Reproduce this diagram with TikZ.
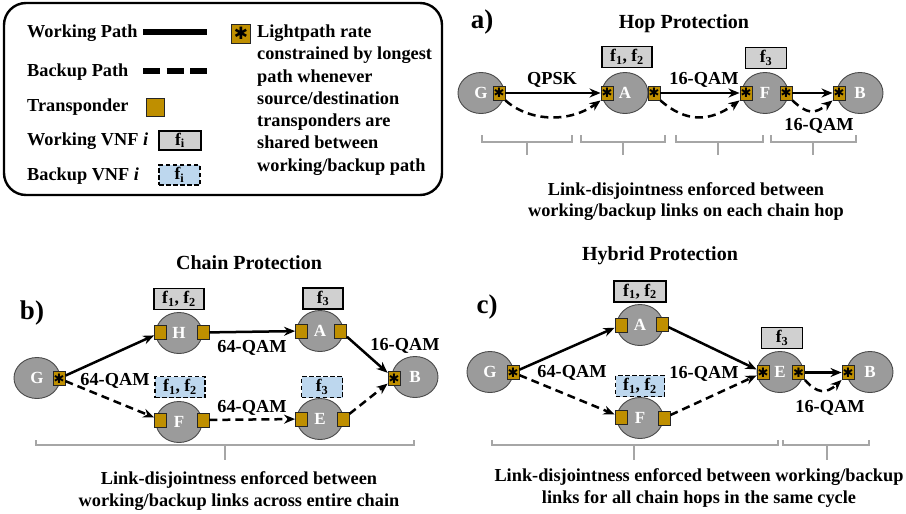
\documentclass[tikz,border=0pt]{standalone}
\usepackage{fontspec}
\setmainfont{Liberation Serif}
\newfontfamily\symfont{DejaVu Sans}
\usetikzlibrary{shapes.geometric,arrows.meta}
\definecolor{gold}{HTML}{BF8F00}
\definecolor{ndfill}{HTML}{9B9B9B}
\definecolor{ndline}{HTML}{4A4A4A}
\definecolor{vnfgray}{HTML}{D0D0D0}
\definecolor{vnfblue}{HTML}{BDD7EE}
\definecolor{brkc}{HTML}{A6A6A6}
\newcommand\tpstar{{\symfont ✱}}
\begin{document}
\begin{tikzpicture}[x=1pt,y=-1pt,
  txt/.style={font=\bfseries\fontsize{18.3}{21}\selectfont, inner sep=0pt, text height=13pt, text depth=3pt},
  ttl/.style={font=\bfseries\fontsize{20}{22}\selectfont, inner sep=0pt, text height=14pt, text depth=4pt},
  desc/.style={font=\bfseries\fontsize{18.3}{21.5}\selectfont, inner sep=0pt, align=center},
  big/.style={font=\bfseries\fontsize{27}{28}\selectfont, inner sep=0pt},
  nd/.style={ellipse, draw=ndline, fill=ndfill, line width=0.9pt, minimum width=46pt, minimum height=41pt, inner sep=0pt, text=white, font=\bfseries\fontsize{17}{17}\selectfont},
  tp/.style={rectangle, draw=black!85, fill=gold, line width=0.9pt, minimum width=12pt, minimum height=14pt, inner sep=0pt},
  tps/.style={tp, font=\fontsize{13}{13}\selectfont},
  vw/.style={rectangle, draw=black, fill=vnfgray, line width=1.8pt, minimum width=50pt, minimum height=21pt, inner sep=0pt, font=\bfseries\fontsize{17.5}{17.5}\selectfont},
  vb/.style={vw, fill=vnfblue, line width=1.5pt, dash pattern=on 4.5pt off 2.5pt},
  work/.style={line width=2.5pt, -{Stealth[length=11pt,width=9pt]}},
  bkp/.style={work, dash pattern=on 8pt off 5pt},
  brk/.style={draw=brkc, line width=1.5pt}
]
\useasboundingbox (0,0) rectangle (906,514);

% ---------------- Legend ----------------
\draw[line width=2.4pt, rounded corners=22pt] (4,3) rectangle (442,195);
\node[txt, anchor=west] (lgw) at (27,32) {Working Path};
\coordinate (lw1) at (143,32); \coordinate (lw2) at (207,32);
\draw[line width=5.5pt] (lw1) -- (lw2);
\node[txt, anchor=west] (lgb) at (27,71) {Backup Path};
\coordinate (lb1) at (143,71); \coordinate (lb2) at (207,71);
\draw[line width=5.5pt, dash pattern=on 17pt off 6.5pt] (lb1) -- (lb2);
\node[txt, anchor=west] (lgt) at (27,106) {Transponder};
\node[tp, minimum width=18pt, minimum height=18pt] (lgtb) at (155,107) {};
\node[txt, anchor=west] (lgv) at (27,140) {Working VNF \textit{i}};
\node[vw, minimum width=42pt, minimum height=19pt] (lgvb) at (180,140.5) {f\textsubscript{i}};
\node[txt, anchor=west] (lgk) at (27,175) {Backup VNF \textit{i}};
\node[vb, minimum width=41pt, minimum height=20pt] (lgkb) at (179.5,175) {f\textsubscript{i}};
\node[tp, minimum width=19pt, minimum height=19pt, font=\fontsize{17}{17}\selectfont] (lgs) at (241,33.5) {\tpstar};
\node[font=\bfseries\fontsize{18.3}{22.3}\selectfont, align=left, anchor=west, inner sep=0pt] (lgst) at (257,100)
  {Lightpath rate\\constrained by longest\\path whenever\\source/destination\\transponders are\\shared between\\working/backup path};

% ---------------- a) Hop Protection ----------------
\node[big] (la) at (482,22) {a)};
\node[ttl] (ta) at (684,23) {Hop Protection};
\node[nd] (aG) at (481,93) {G};
\node[nd] (aA) at (625,93) {A};
\node[nd] (aF) at (765,93) {F};
\node[nd] (aB) at (860,93) {B};
\node[tps] (aGt) at (499,93) {\tpstar};
\node[tps] (aAl) at (607,93) {\tpstar};
\node[tps] (aAr) at (654,93) {\tpstar};
\node[tps] (aFl) at (746,93) {\tpstar};
\node[tps] (aFr) at (786,93) {\tpstar};
\node[tps] (aBl) at (839,93) {\tpstar};
\node[vw] (aV1) at (627,57) {f\textsubscript{1}, f\textsubscript{2}};
\node[vw, minimum width=41pt] (aV2) at (766,58) {f\textsubscript{3}};
\draw[work] (aGt) -- (aAl);
\draw[work] (aAr) -- (aFl);
\draw[work] (aFr) -- (aBl);
\draw[bkp] (aGt.south east) .. controls +(25,22) and +(-30,22) .. (aAl.south west);
\draw[bkp] (aAr.south east) .. controls +(25,22) and +(-30,22) .. (aFl.south west);
\draw[bkp] (aFr.south east) .. controls +(15,14) and +(-18,14) .. (aBl.south west);
\node[txt] (aq1) at (552,79) {QPSK};
\node[txt] (aq2) at (704,79) {16-QAM};
\node[txt] (aq3) at (819,125) {16-QAM};
\draw[brk] (482,135) |- (572,142) -- (572,135); \draw[brk] (527,142) -- (527,155);
\draw[brk] (581,135) |- (665,142) -- (665,135); \draw[brk] (623,142) -- (623,155);
\draw[brk] (676,135) |- (763,142) -- (763,135); \draw[brk] (718,142) -- (718,155);
\draw[brk] (771,135) |- (856,142) -- (856,135); \draw[brk] (813,142) -- (813,155);
\node[desc] (ad) at (686,201.5) {Link-disjointness enforced between\\working/backup links on each chain hop};

% ---------------- b) Chain Protection ----------------
\node[big] (lb) at (32,313) {b)};
\node[ttl] (tb) at (249,264) {Chain Protection};
\node[nd] (bG) at (37,378) {G};
\node[nd] (bH) at (179,333) {H};
\node[nd] (bF) at (179,422) {F};
\node[nd] (bA) at (320,331) {A};
\node[nd] (bE) at (320,419) {E};
\node[nd] (bB) at (415,377) {B};
\node[tps] (bGt) at (59,378.5) {\tpstar};
\node[tp] (bHl) at (160.5,332.5) {};
\node[tp] (bHr) at (203,332.5) {};
\node[tp] (bAl) at (301.5,331) {};
\node[tp] (bAr) at (340.5,331) {};
\node[tp] (bFl) at (160.5,420) {};
\node[tp] (bFr) at (203,420) {};
\node[tp] (bEl) at (301.5,419) {};
\node[tp] (bEr) at (343,419) {};
\node[tps] (bBl) at (394,378.5) {\tpstar};
\node[vw] (bV1) at (179,299) {f\textsubscript{1}, f\textsubscript{2}};
\node[vw, minimum width=40pt] (bV2) at (323,298.5) {f\textsubscript{3}};
\node[vb] (bV3) at (180,387) {f\textsubscript{1}, f\textsubscript{2}};
\node[vb, minimum width=41pt] (bV4) at (322,387) {f\textsubscript{3}};
\draw[work] (bGt) -- (bHl);
\draw[work] (bHr) -- (bAl);
\draw[work] (bAr) -- (bBl);
\draw[bkp] (bGt) -- (bFl);
\draw[bkp] (bFr) -- (bEl);
\draw[bkp] (bEr) -- (bBl);
\node[txt] (bq1) at (115,380) {64-QAM};
\node[txt] (bq2) at (252,347) {64-QAM};
\node[txt] (bq3) at (252,407) {64-QAM};
\node[txt] (bq4) at (405,345) {16-QAM};
\draw[brk] (36,440) |- (414,445) -- (414,440); \draw[brk] (225,445) -- (225,460);
\node[desc] (bd) at (239,491) {Link-disjointness enforced between\\working/backup links across entire chain};

% ---------------- c) Hybrid Protection ----------------
\node[big] (lc) at (487,307) {c)};
\node[ttl] (tc) at (660,255) {Hybrid Protection};
\node[nd] (cG) at (490,372) {G};
\node[nd] (cA) at (640,325) {A};
\node[nd] (cF) at (640,418) {F};
\node[nd] (cE) at (780,372) {E};
\node[nd] (cB) at (870,372) {B};
\node[tps] (cGt) at (513,372.5) {\tpstar};
\node[tp] (cAl) at (621,325) {};
\node[tp] (cAr) at (662,324) {};
\node[tp] (cFl) at (621,417) {};
\node[tp] (cFr) at (664,418) {};
\node[tps] (cEl) at (763,372.5) {\tpstar};
\node[tps] (cEr) at (798.5,372.5) {\tpstar};
\node[tps] (cBl) at (848,372.5) {\tpstar};
\node[vw, minimum width=52pt] (cV1) at (640,291.5) {f\textsubscript{1}, f\textsubscript{2}};
\node[vb, minimum width=49pt] (cV2) at (640,386) {f\textsubscript{1}, f\textsubscript{2}};
\node[vw, minimum width=41pt] (cV3) at (782,338) {f\textsubscript{3}};
\draw[work] (cGt) -- (cAl);
\draw[work] (cAr) -- (cEl);
\draw[work] (cEr) -- (cBl);
\draw[bkp] (cGt) -- (cFl);
\draw[bkp] (cFr) -- (cEl);
\draw[bkp] (cEr.south east) .. controls +(12,14) and +(-15,14) .. (cBl.south west);
\node[txt] (cq1) at (572,372) {64-QAM};
\node[txt] (cq2) at (704,373) {16-QAM};
\node[txt] (cq3) at (830,407) {16-QAM};
\draw[brk] (492,440) |- (778,445) -- (778,440); \draw[brk] (634,445) -- (634,460);
\draw[brk] (783,440) |- (869,445) -- (869,440); \draw[brk] (827,445) -- (827,460);
\node[desc] (cd) at (699,488) {Link-disjointness enforced between working/backup\\links for all chain hops in the same cycle};
\end{tikzpicture}
\end{document}
